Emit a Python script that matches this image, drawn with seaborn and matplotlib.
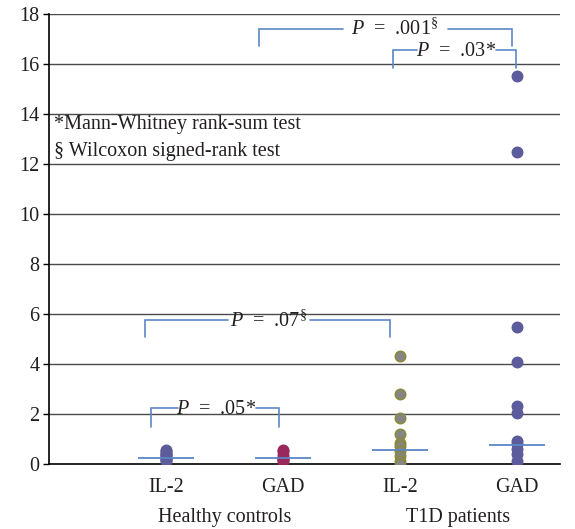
import numpy as np
import pandas as pd
import matplotlib
matplotlib.use("Agg")
import matplotlib.pyplot as plt
import seaborn as sns

# ---- data ----
categories = ["HC IL-2", "HC GAD", "T1D IL-2", "T1D GAD"]
tick_labels = ["IL-2", "GAD", "IL-2", "GAD"]
group_labels = ["Healthy controls", "T1D patients"]

hc_il2 = [0.12, 0.16, 0.2, 0.25, 0.3, 0.35, 0.4, 0.45, 0.5, 0.55]
hc_gad = [0.1, 0.15, 0.2, 0.25, 0.35, 0.5, 0.55]
t1d_il2 = [4.32, 2.80, 1.85, 1.20, 0.83, 0.73, 0.53, 0.33, 0.13, 0.0]
t1d_gad = [15.5, 12.45, 5.49, 4.06, 2.33, 2.02, 0.93, 0.8, 0.6, 0.4, 0.13]
medians = [0.25, 0.25, 0.56, 0.77]

brackets_text = ["$\\mathit{P}$  =  .05*", "$\\mathit{P}$  =  .07$^{\\S}$",
                 "$\\mathit{P}$  =  .03*", "$\\mathit{P}$  =  .001$^{\\S}$"]

sns.set_theme(style="white")
plt.rcParams["font.family"] = ["Liberation Serif", "DejaVu Serif"]
plt.rcParams["mathtext.fontset"] = "custom"
plt.rcParams["mathtext.rm"] = "Liberation Serif"
plt.rcParams["mathtext.it"] = "Liberation Serif:italic"
plt.rcParams["mathtext.bf"] = "Liberation Serif:bold"

FS = 14.5
TXT = "#231f20"

series = [hc_il2, hc_gad, t1d_il2, t1d_gad]
df = pd.DataFrame({
    "cat": np.concatenate([[c] * len(v) for c, v in zip(categories, series)]),
    "val": np.concatenate(series),
})

face = {"HC IL-2": "#5c5c9a", "HC GAD": "#99285c", "T1D IL-2": "#858585", "T1D GAD": "#5c5c9c"}
edge = {"HC IL-2": "#5c5c9a", "HC GAD": "#99285c", "T1D IL-2": "#8a8a36", "T1D GAD": "#5c5c9c"}

fig = plt.figure(figsize=(5.75, 5.29), dpi=100)
ax = fig.add_axes([49 / 575, 1 - 464 / 529, (560 - 49) / 575, (464 - 13.5) / 529])

for c in categories:
    n_before = len(ax.collections)
    sns.stripplot(data=df[df["cat"] == c], x="cat", y="val", order=categories,
                  jitter=False, color=face[c], edgecolor=edge[c], linewidth=1.1,
                  size=7.5, ax=ax, zorder=3)
    for coll in ax.collections[n_before:]:
        coll.set_facecolor(face[c])
        coll.set_edgecolor(edge[c])
        coll.set_linewidth(1.1)

# grid lines
for yv in range(2, 19, 2):
    ax.axhline(yv, color="#4a4a4a", lw=1.0, zorder=1)

# median lines
blue = "#5b87c5"
for i, m in enumerate(medians):
    ax.hlines(m, i - 0.24, i + 0.24, color=blue, lw=1.3, zorder=4)

# brackets
br = [
    (-0.13, 0.966, 2.23, 1.48, 0.10, 0.77, 0.43, 2.18),
    (-0.18, 1.92, 5.75, 5.06, 0.53, 1.23, 0.88, 5.72),
    (1.94, 2.99, 16.53, 15.84, 2.15, 2.82, 2.485, 16.50),
    (0.795, 2.957, 17.4, 16.72, 1.51, 2.41, 1.96, 17.37),
]
for (xl, xr, yt, yb, gl, gr, tx, ty), txt in zip(br, brackets_text):
    ax.plot([xl, xl, gl], [yb, yt, yt], color=blue, lw=1.2, zorder=4, solid_joinstyle="miter")
    ax.plot([gr, xr, xr], [yt, yt, yb], color=blue, lw=1.2, zorder=4, solid_joinstyle="miter")
    ax.text(tx, ty, txt, ha="center", va="center", fontsize=FS, color=TXT, zorder=5)

ax.text(-0.96, 13.55, "*Mann-Whitney rank-sum test", ha="left", va="center",
        fontsize=FS, color=TXT)
ax.text(-0.96, 12.5, "§ Wilcoxon signed-rank test", ha="left", va="center",
        fontsize=FS, color=TXT)

ax.set_xlim(-1.0, 3.37)
ax.set_ylim(0, 18)
ax.set_yticks(range(0, 19, 2))
ax.set_xticks(range(4))
ax.set_xticklabels(tick_labels)
ax.set_xlabel("")
ax.set_ylabel("")
ax.tick_params(axis="y", which="both", left=True, length=4, width=1, color="black",
               labelsize=FS, labelcolor=TXT, pad=3)
ax.tick_params(axis="x", which="both", bottom=False, labelsize=FS, labelcolor=TXT, pad=4)
for s in ["top", "right"]:
    ax.spines[s].set_visible(False)
ax.spines["left"].set_color("black")
ax.spines["bottom"].set_color("black")
ax.spines["left"].set_linewidth(1.2)
ax.spines["bottom"].set_linewidth(1.2)

# group labels
ax.text(0.5, -0.118, group_labels[0], transform=ax.get_xaxis_transform(),
        ha="center", va="center", fontsize=FS, color=TXT)
ax.text(2.5, -0.118, group_labels[1], transform=ax.get_xaxis_transform(),
        ha="center", va="center", fontsize=FS, color=TXT)

fig.savefig("out.png", dpi=100)
